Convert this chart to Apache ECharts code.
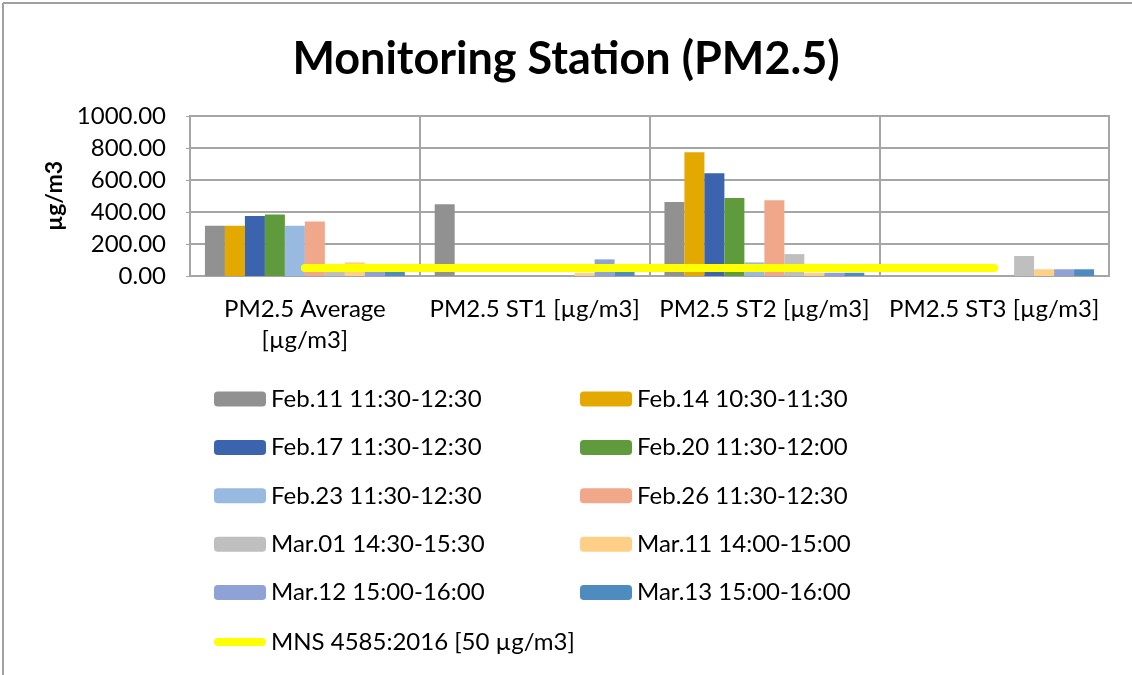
<!DOCTYPE html>
<html>
<head>
<meta charset="utf-8">
<script src="https://cdn.jsdelivr.net/npm/echarts@6.0.0/dist/echarts.min.js"></script>
<style>
  html, body { margin: 0; padding: 0; background: #fff; }
  #chart { width: 1132px; height: 675px; }
</style>
</head>
<body>
<div id="chart"></div>
<script>
  // categories on the x axis
  const categories = ['PM2.5 Average [µg/m3]', 'PM2.5 ST1 [µg/m3]', 'PM2.5 ST2 [µg/m3]', 'PM2.5 ST3 [µg/m3]']

  // one array per sampling period, values in µg/m3
  const feb11 = [314, 448, 462, 0]
  const feb14 = [314, 0, 773, 0]
  const feb17 = [375, 0, 642, 0]
  const feb20 = [385, 0, 487, 0]
  const feb23 = [314, 0, 85, 0]
  const feb26 = [340, 0, 473, 0]
  const mar01 = [45, 0, 137, 125]
  const mar11 = [85, 20, 20, 42]
  const mar12 = [35, 104, 20, 42]
  const mar13 = [35, 25, 20, 42]
  const limitMns = [50, 50, 50, 50]

  const yTicks = [0, 200, 400, 600, 800, 1000]

  const barSeries = [
    {name: 'Feb.11 11:30-12:30', data: feb11, color: '#919191'},
    {name: 'Feb.14 10:30-11:30', data: feb14, color: '#e3a900'},
    {name: 'Feb.17 11:30-12:30', data: feb17, color: '#3c64ae'},
    {name: 'Feb.20 11:30-12:00', data: feb20, color: '#5f9a3c'},
    {name: 'Feb.23 11:30-12:30', data: feb23, color: '#98b9e0'},
    {name: 'Feb.26 11:30-12:30', data: feb26, color: '#f1a88a'},
    {name: 'Mar.01 14:30-15:30', data: mar01, color: '#bfbfbf'},
    {name: 'Mar.11 14:00-15:00', data: mar11, color: '#fecf86'},
    {name: 'Mar.12 15:00-16:00', data: mar12, color: '#8fa2d5'},
    {name: 'Mar.13 15:00-16:00', data: mar13, color: '#4e8bbf'},
  ]
  const lineName = 'MNS 4585:2016 [50 µg/m3]'

  const font = 'Lato, "Open Sans", sans-serif'
  const gridColor = '#a6a6a6'

  const series = barSeries.map(s => ({
    name: s.name,
    type: 'bar',
    data: s.data,
    barGap: '0%',
    barCategoryGap: '13%',
    itemStyle: {color: s.color},
  }))
  series.push({
    name: lineName,
    type: 'line',
    data: limitMns,
    symbol: 'none',
    z: 5,
    itemStyle: {color: '#ffff00'},
    lineStyle: {color: '#ffff00', width: 8, cap: 'round'},
  })

  const legendText = {fontFamily: font, fontSize: 24, color: '#000', lineHeight: 28}
  const leftNames = [0, 2, 4, 6, 8].map(i => barSeries[i].name)
  const rightNames = [1, 3, 5, 7, 9].map(i => barSeries[i].name)
  const legendBase = {
    orient: 'vertical', padding: 0,
    itemWidth: 52, itemHeight: 15, itemGap: 20.4,
    textStyle: legendText,
  }

  const option = {
    animation: false,
    backgroundColor: '#fff',
    title: {
      text: 'Monitoring Station (PM2.5)',
      left: 'center',
      top: 32,
      textStyle: {fontFamily: font, fontSize: 45, fontWeight: 'bold', color: '#000'},
    },
    legend: [
      {...legendBase, left: 214, top: 385, data: leftNames},
      {...legendBase, left: 580, top: 385, data: rightNames},
      {
        ...legendBase, left: 214, top: 628, itemHeight: 8,
        icon: 'path://M4,0 L48,0 A4,4 0 0 1 48,8 L4,8 A4,4 0 0 1 4,0 Z',
        data: [lineName],
      },
    ],
    grid: {
      left: 190, right: 23, top: 116, bottom: 399,
      show: true, borderColor: gridColor, borderWidth: 2,
    },
    xAxis: {
      type: 'category',
      data: categories,
      axisLine: {lineStyle: {color: gridColor, width: 2}},
      axisTick: {show: false},
      splitLine: {show: true, interval: 0, lineStyle: {color: gridColor, width: 2}},
      axisLabel: {
        interval: 0, hideOverlap: false,
        fontFamily: font, fontSize: 24, color: '#000', margin: 18, lineHeight: 31,
        formatter: v => v === categories[0] ? 'PM2.5 Average\n[µg/m3]' : v,
      },
    },
    yAxis: {
      type: 'value',
      min: yTicks[0],
      max: yTicks[yTicks.length - 1],
      interval: 200,
      name: 'µg/m3',
      nameLocation: 'middle',
      nameGap: 122,
      nameTextStyle: {fontFamily: font, fontSize: 23, fontWeight: 'bold', color: '#000'},
      axisLine: {show: true, lineStyle: {color: gridColor, width: 2}},
      axisTick: {show: true, length: 4, lineStyle: {color: gridColor}},
      splitLine: {lineStyle: {color: gridColor, width: 2}},
      axisLabel: {
        fontFamily: font, fontSize: 24, color: '#000', margin: 24,
        formatter: v => v.toFixed(2),
      },
    },
    graphic: [
      {type: 'line', shape: {x1: 3, y1: 3, x2: 1132, y2: 3}, style: {stroke: '#a0a0a0', lineWidth: 2}},
      {type: 'line', shape: {x1: 3, y1: 3, x2: 3, y2: 675}, style: {stroke: '#a0a0a0', lineWidth: 2}},
    ],
    series,
  }

  const chart = echarts.init(document.getElementById('chart'))
  chart.setOption(option)
</script>
</body>
</html>
